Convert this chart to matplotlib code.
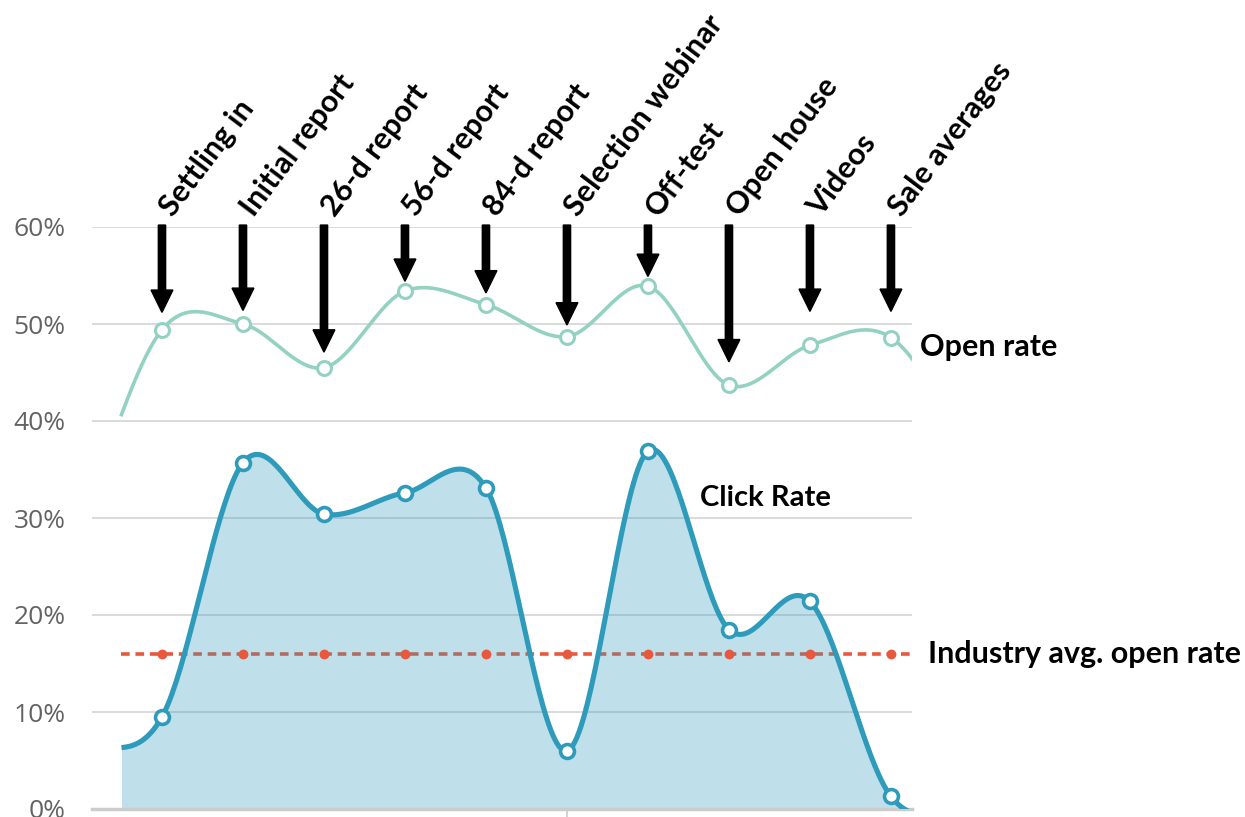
import numpy as np
import matplotlib.pyplot as plt
from matplotlib import transforms

# milestones along the x axis
milestones = ["Settling in", "Initial report", "26-d report", "56-d report", "84-d report",
              "Selection webinar", "Off-test", "Open house", "Videos", "Sale averages"]

# rates in %
open_rate = [49.4, 50.0, 45.5, 53.4, 52.0, 48.7, 53.9, 43.7, 47.8, 48.6]
click_rate = [9.5, 35.7, 30.4, 32.6, 33.1, 6.0, 36.9, 18.5, 21.4, 1.3]
industry_avg = 16.0

# values just outside the visible range (curves run off both edges)
open_rate_edges = [29.5, 36.8]
click_rate_edges = [6.0, 0.0]

# how far above the open-rate point each arrow stops (in %)
arrow_gap = [1.8, 1.4, 1.6, 1.0, 1.2, 1.2, 1.0, 2.4, 3.5, 2.7]

open_col = "#93d1c1"
click_col = "#2e9bba"
avg_col = "#e8583c"
label_font = "Lato"


def spline(values, edges, n=40):
    # cubic hermite through the points, like the smooth lines of the original
    y = np.array([edges[0]] + list(values) + [edges[1]], dtype=float)
    x = np.arange(-1, len(values) + 1, dtype=float)
    m = np.gradient(y, x)
    xs, ys = [], []
    t = np.linspace(0, 1, n, endpoint=False)
    h00 = 2 * t**3 - 3 * t**2 + 1
    h10 = t**3 - 2 * t**2 + t
    h01 = -2 * t**3 + 3 * t**2
    h11 = t**3 - t**2
    for i in range(len(x) - 1):
        xs.append(x[i] + t)
        ys.append(h00 * y[i] + h10 * m[i] + h01 * y[i + 1] + h11 * m[i + 1])
    xs.append([x[-1]])
    ys.append([y[-1]])
    return np.concatenate(xs), np.concatenate(ys)


fig = plt.figure(figsize=(12.45, 8.17), dpi=100)
ax = fig.add_axes([92 / 1245, 8 / 817, 820 / 1245, 582 / 817])

x = np.arange(len(milestones))
x_start = -0.5
ax.set_xlim(-0.864, 9.26)
ax.set_ylim(0, 60)

# grid
ax.set_axisbelow(True)
ax.set_yticks(range(0, 61, 10))
ax.set_yticklabels([f"{v}%" for v in range(0, 61, 10)])
ax.yaxis.grid(True, color="#dadada", lw=1.4)
ax.tick_params(axis="y", length=0, pad=19, labelsize=19, labelcolor="#636363")
for lab in ax.get_yticklabels():
    lab.set_family("Open Sans")
ax.set_xticks([5])
ax.set_xticklabels([""])
ax.tick_params(axis="x", length=8, width=1.2, color="#cccccc")
for s in ["top", "left", "right"]:
    ax.spines[s].set_visible(False)
ax.spines["bottom"].set_color("#cccccc")
ax.spines["bottom"].set_linewidth(2.5)

# industry average (dashed line sits under the fill, dots on top)
ax.hlines(industry_avg, x_start, ax.get_xlim()[1], color=avg_col, lw=2.6,
          linestyles=(0, (2.4, 1.6)), zorder=1)
ax.scatter(x, [industry_avg] * len(x), s=50, color=avg_col, zorder=3, lw=0)

# click rate area
xc, yc = spline(click_rate, click_rate_edges)
keep = xc >= x_start
ax.fill_between(xc[keep], yc[keep], 0, color=click_col, alpha=0.3, lw=0, zorder=2)
ax.plot(xc[keep], yc[keep], color=click_col, lw=3.7, zorder=4, solid_capstyle="butt")
ax.plot(x, click_rate, ls="none", marker="o", ms=10, mfc="white", mec=click_col,
        mew=2.6, zorder=5)

# open rate line
xo, yo = spline(open_rate, open_rate_edges)
keep = xo >= x_start
ax.plot(xo[keep], yo[keep], color=open_col, lw=2.6, zorder=3)
ax.plot(x, open_rate, ls="none", marker="o", ms=10, mfc="white", mec=open_col,
        mew=2.2, zorder=5)

# arrows and milestone labels
for i, name in enumerate(milestones):
    tip = open_rate[i] + arrow_gap[i]
    ax.arrow(i, 60.2, 0, tip - 60.2, width=0.09, head_width=0.27, head_length=2.3,
             length_includes_head=True, color="black", zorder=6, clip_on=False)
    ax.text(i + 0.14, 60.9, name, rotation=53, rotation_mode="anchor", ha="left",
            va="baseline", fontsize=22, fontweight="bold", family=label_font,
            clip_on=False)

# series labels
side = transforms.blended_transform_factory(ax.transAxes, ax.transData)
ax.text(1.0098, 47.6, "Open rate", transform=side, va="center", ha="left",
        fontsize=22, fontweight="bold", family=label_font)
ax.text(1.0195, industry_avg, "Industry avg. open rate", transform=side, va="center",
        ha="left", fontsize=22, fontweight="bold", family=label_font)
ax.text(6.64, 32.1, "Click Rate", va="center", ha="left", fontsize=21,
        fontweight="bold", family=label_font)

fig.savefig("out.png", dpi=100)
